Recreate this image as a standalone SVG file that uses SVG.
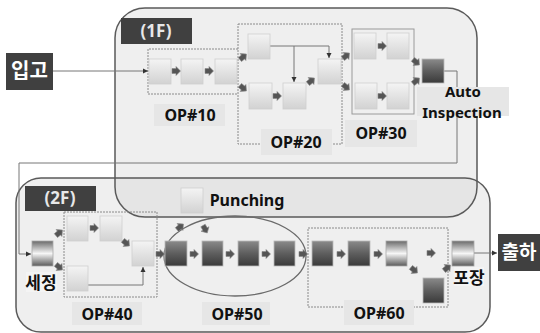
<svg xmlns="http://www.w3.org/2000/svg" width="540" height="333" viewBox="0 0 540 333">
<defs>
<linearGradient id="gLight" x1="0" y1="0" x2="0" y2="1"><stop offset="0" stop-color="#f4f4f4"/><stop offset="1" stop-color="#d2d2d2"/></linearGradient>
<linearGradient id="gDark" x1="0" y1="0" x2="0" y2="1"><stop offset="0" stop-color="#8a8a8a"/><stop offset="0.5" stop-color="#5e5e5e"/><stop offset="1" stop-color="#3a3a3a"/></linearGradient>
<linearGradient id="gCyl" x1="0" y1="0" x2="0" y2="1"><stop offset="0" stop-color="#6a6a6a"/><stop offset="0.5" stop-color="#f6f6f6"/><stop offset="1" stop-color="#5a5a5a"/></linearGradient>
<path id="ba" d="M-4,-2.5 L0,-2.5 L0,-4.5 L4.5,0 L0,4.5 L0,2.5 L-4,2.5 Z" fill="#555" stroke="#888" stroke-width="0.6"/>
<marker id="ah" markerWidth="6" markerHeight="6" refX="5" refY="3" orient="auto" markerUnits="userSpaceOnUse"><path d="M0,0.5 L5,3 L0,5.5 Z" fill="#333"/></marker>
</defs>
<style>
.panel{fill:#d8d8d8;fill-opacity:0.4;stroke:none}
.pline{fill:none;stroke:#5a5a5a;stroke-width:1.5}
.dash{fill:none;stroke:#8a8a8a;stroke-width:1;stroke-dasharray:2 1}
.solid{fill:none;stroke:#9a9a9a;stroke-width:1}
.conn{fill:none;stroke:#777;stroke-width:1}
.lt{fill:url(#gLight);stroke:#cfcfcf;stroke-width:0.8}
.dk{fill:url(#gDark);stroke:#bbb;stroke-width:0.8}
.cy{fill:url(#gCyl);stroke:#aaa;stroke-width:0.8}
.lbg{fill:#e6e6e6}
.lbl{font-family:"Noto Sans","Noto Sans CJK KR",sans-serif;font-weight:bold;font-size:16px;fill:#111;text-anchor:middle}
.kr{font-family:"Noto Sans CJK KR",sans-serif;font-weight:bold;font-size:17px;fill:#111;text-anchor:middle}
.tag{fill:#404040}
.tagt{font-family:"Noto Sans","Noto Sans CJK KR",sans-serif;font-weight:bold;font-size:17px;fill:#e8e8e8;text-anchor:middle}
</style>
<rect width="540" height="333" fill="#fff"/>
<g id="panels">
<rect class="panel" x="16" y="178" width="474" height="154" rx="25"/>
<rect class="panel" x="115" y="8" width="362" height="209" rx="30"/>
<rect class="pline" x="16" y="178" width="474" height="154" rx="25"/>
<rect class="pline" x="115" y="8" width="362" height="209" rx="30"/>
</g>
<g id="groups">
<path class="dash" d="M238,49 H148 V94 H238"/>
<rect class="dash" x="238" y="24" width="104" height="120"/>
<rect class="solid" x="352" y="29" width="62" height="85"/>
<rect class="dash" x="64" y="212" width="93" height="85"/>
<ellipse cx="235" cy="256" rx="71" ry="40" fill="none" stroke="#6a6a6a" stroke-width="1.3"/>
<rect class="dash" x="308" y="228" width="140" height="79"/>
</g>
<g id="connectors">
<path class="conn" d="M53,71 H148" marker-end="url(#ah)"/>
<path class="conn" d="M444,71 H457 V163 H19 V254 H31" marker-end="url(#ah)"/>
<path class="conn" d="M270,46 H329 V58" marker-end="url(#ah)"/>
<path class="conn" d="M294,46 V82" marker-end="url(#ah)"/>
<path class="conn" d="M88,285 H143 V267" marker-end="url(#ah)"/>
<path class="conn" d="M474,253 H497" marker-end="url(#ah)"/>
</g>
<g id="tag-1F"><rect class="tag" x="121" y="18" width="71" height="26"/><text class="tagt" x="156" y="37">(1F)</text></g>
<g id="tag-2F"><rect class="tag" x="25" y="186" width="71" height="25"/><text class="tagt" x="60" y="204">(2F)</text></g>
<g id="in"><rect class="tag" x="6" y="53" width="47" height="37"/><text class="kr" x="29.5" y="78" style="fill:#fff;font-size:20px">입고</text></g>
<g id="out"><rect class="tag" x="498" y="234" width="42" height="37"/><text class="kr" x="519" y="259" style="fill:#fff;font-size:19px">출하</text></g>
<g id="op10">
<rect class="lt" x="149" y="59" width="22" height="25"/>
<rect class="lt" x="181" y="59" width="22" height="25"/>
<rect class="lt" x="215" y="59" width="22" height="25"/>
<rect class="lbg" x="154" y="104" width="71" height="22"/><text class="lbl" x="190" y="121">OP#10</text>
</g>
<g id="op20">
<rect class="lt" x="248" y="34" width="22" height="25"/>
<rect class="lt" x="249" y="83" width="23" height="26"/>
<rect class="lt" x="283" y="83" width="23" height="26"/>
<rect class="lt" x="318" y="59" width="23" height="25"/>
<rect class="lbg" x="261" y="129" width="71" height="26"/><text class="lbl" x="296" y="148">OP#20</text>
</g>
<g id="op30">
<rect class="lt" x="354" y="33" width="22" height="26"/>
<rect class="lt" x="387" y="33" width="22" height="26"/>
<rect class="lt" x="355" y="83" width="22" height="26"/>
<rect class="lt" x="387" y="83" width="22" height="26"/>
<rect class="lbg" x="345" y="120" width="72" height="27"/><text class="lbl" x="381" y="139">OP#30</text>
</g>
<g id="auto">
<rect class="dk" x="422" y="59" width="22" height="24"/>
<rect class="lbg" x="417" y="87" width="92" height="29"/>
<text class="lbl" x="463" y="97" style="font-size:15px">Auto</text>
<text class="lbl" x="462" y="118" style="font-size:15px">Inspection</text>
</g>
<g id="legend">
<rect class="lt" x="181" y="188" width="22" height="25"/>
<text class="lbl" x="247" y="206">Punching</text>
</g>
<g id="wash">
<rect class="cy" x="32" y="241" width="21" height="25"/>
<rect x="26" y="272" width="31" height="20" fill="#f4f4f4"/>
<text class="kr" x="41" y="289">세정</text>
</g>
<g id="op40">
<rect class="lt" x="67" y="216" width="21" height="25"/>
<rect class="lt" x="100" y="216" width="22" height="25"/>
<rect class="lt" x="132" y="241" width="22" height="25"/>
<rect class="lt" x="67" y="266" width="21" height="25"/>
<rect class="lbg" x="72" y="302" width="70" height="23"/><text class="lbl" x="107" y="320">OP#40</text>
</g>
<g id="op50">
<rect class="dk" x="165" y="241" width="22" height="25"/>
<rect class="dk" x="202" y="241" width="21" height="25"/>
<rect class="dk" x="238" y="241" width="21" height="25"/>
<rect class="dk" x="274" y="241" width="21" height="25"/>
<rect class="lbg" x="202" y="302" width="68" height="23"/><text class="lbl" x="237" y="320">OP#50</text>
</g>
<g id="op60">
<rect class="dk" x="312" y="241" width="21" height="25"/>
<rect class="dk" x="348" y="241" width="22" height="25"/>
<rect class="cy" x="386" y="241" width="21" height="25"/>
<rect class="dk" x="423" y="278" width="21" height="25"/>
<rect class="lbg" x="344" y="300" width="70" height="25"/><text class="lbl" x="379" y="319">OP#60</text>
</g>
<g id="pack">
<rect class="cy" x="452" y="241" width="22" height="25"/>
<rect x="454" y="267" width="30" height="19" fill="#f4f4f4"/>
<text class="kr" x="469" y="284">포장</text>
</g>
<g id="flow-arrows">
<use href="#ba" transform="translate(176,71)"/>
<use href="#ba" transform="translate(209,71)"/>
<use href="#ba" transform="translate(243,57) rotate(-40)"/>
<use href="#ba" transform="translate(243,88) rotate(40)"/>
<use href="#ba" transform="translate(277,96)"/>
<use href="#ba" transform="translate(311,81) rotate(-40)"/>
<use href="#ba" transform="translate(346,56) rotate(-40)"/>
<use href="#ba" transform="translate(346,87) rotate(40)"/>
<use href="#ba" transform="translate(382,46)"/>
<use href="#ba" transform="translate(382,96)"/>
<use href="#ba" transform="translate(416,62) rotate(40)"/>
<use href="#ba" transform="translate(416,81) rotate(-40)"/>
<use href="#ba" transform="translate(59,233) rotate(-40)"/>
<use href="#ba" transform="translate(59,267) rotate(40)"/>
<use href="#ba" transform="translate(94,228)"/>
<use href="#ba" transform="translate(126,243) rotate(40)"/>
<use href="#ba" transform="translate(160,254)"/>
<use href="#ba" transform="translate(194,254)"/>
<use href="#ba" transform="translate(230,254)"/>
<use href="#ba" transform="translate(266,254)"/>
<use href="#ba" transform="translate(303,254)"/>
<use href="#ba" transform="translate(180,227) rotate(-40)"/>
<use href="#ba" transform="translate(205,229) rotate(60)"/>
<use href="#ba" transform="translate(341,254)"/>
<use href="#ba" transform="translate(378,254)"/>
<use href="#ba" transform="translate(414,270) rotate(40)"/>
<use href="#ba" transform="translate(431,253)"/>
<use href="#ba" transform="translate(447,268) rotate(-40)"/>
</g>
</svg>
